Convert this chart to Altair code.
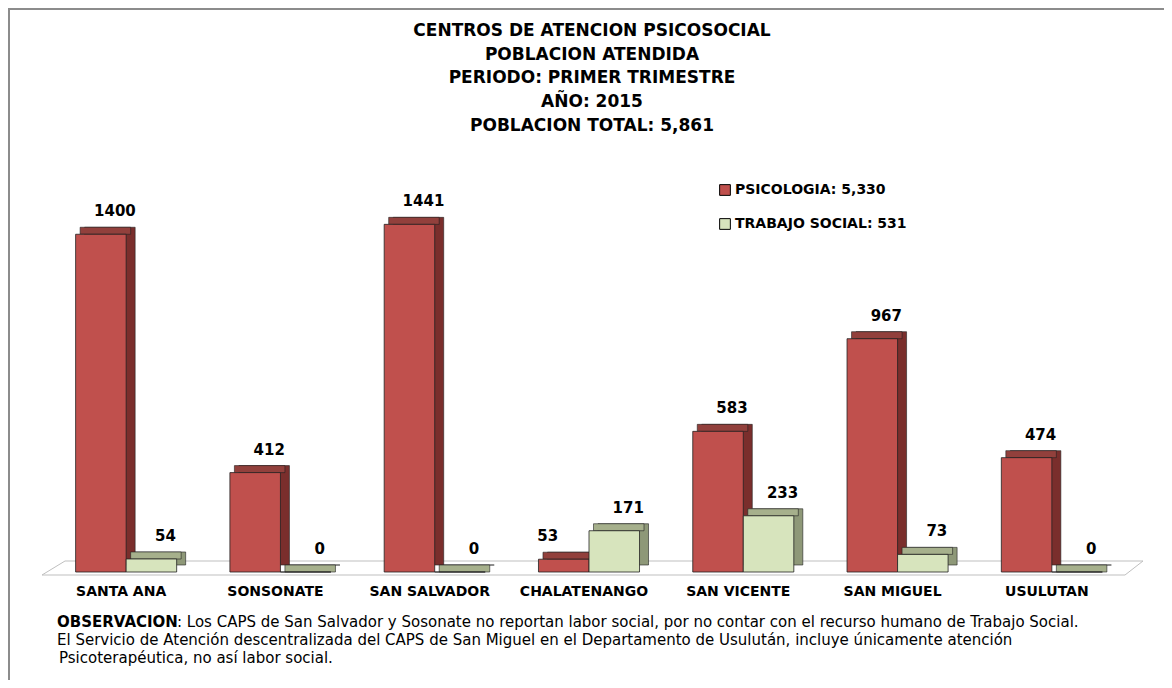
import altair as alt
import pandas as pd

# ---------------- data ----------------
categories = ["SANTA ANA", "SONSONATE", "SAN SALVADOR", "CHALATENANGO",
              "SAN VICENTE", "SAN MIGUEL", "USULUTAN"]
psicologia = [1400, 412, 1441, 53, 583, 967, 474]
trabajo_social = [54, 0, 0, 171, 233, 73, 0]
series_names = ["PSICOLOGIA: 5,330", "TRABAJO SOCIAL: 531"]

title_lines = ["CENTROS DE ATENCION PSICOSOCIAL", "POBLACION ATENDIDA",
               "PERIODO:  PRIMER  TRIMESTRE", "AÑO: 2015", "POBLACION TOTAL: 5,861"]
note_bold = "OBSERVACION"
note_lines = [
    ": Los CAPS de  San Salvador y Sosonate no reportan  labor social, por no contar con el recurso humano de Trabajo Social.",
    "El Servicio de Atención  descentralizada del CAPS de San Miguel en el Departamento de Usulután, incluye únicamente atención",
    "Psicoterapéutica, no así labor social.",
]

# ---------------- styles ----------------
front_colors = ["#C0504D", "#D7E4BD"]
side_colors = ["#7A2E2C", "#8E9878"]
top_colors = ["#92403C", "#A6B08C"]
FONT = "DejaVu Sans"
W, H = 1080, 386
DX, DY = 9, 7
P_IN, P_OUT = 0.345, 0.1725

rows = []
for c, p, t in zip(categories, psicologia, trabajo_social):
    rows.append({"cat": c, "serie": series_names[0], "valor": p})
    rows.append({"cat": c, "serie": series_names[1], "valor": t})
df = pd.DataFrame(rows)
cat_df = pd.DataFrame({"cat": categories})


def x_enc(shift=0):
    return alt.X("cat:N", sort=categories,
                 scale=alt.Scale(domain=categories, paddingInner=P_IN, paddingOuter=P_OUT,
                                 range=[shift, W + shift]),
                 axis=None)


def y_enc(shift=0):
    return alt.Y("valor:Q", scale=alt.Scale(domain=[0, 1600], range=[H - shift, -shift]),
                 axis=None)


xoff_enc = alt.XOffset("serie:N", sort=series_names,
                       scale=alt.Scale(domain=series_names, paddingInner=0, paddingOuter=0))


def colour(rng, legend=None):
    return alt.Color("serie:N", sort=series_names,
                     scale=alt.Scale(domain=series_names, range=rng), legend=legend)


base = alt.Chart(df)
one = alt.Chart(pd.DataFrame({"k": [0]}))

# border (top & left)
border_top = one.mark_rule(color="#8C8C8C", strokeWidth=2).encode(
    x=alt.value(-41), x2=alt.value(W + 35), y=alt.value(-177))
border_left = one.mark_rule(color="#8C8C8C", strokeWidth=2).encode(
    x=alt.value(-40), y=alt.value(-178), y2=alt.value(H + 108))

# floor
floor_col = "#BFBFBF"
floor_front = one.mark_rule(color=floor_col, strokeWidth=1).encode(
    x=alt.value(-7), x2=alt.value(1076), y=alt.value(389))
floor_back = one.mark_rule(color=floor_col, strokeWidth=1).encode(
    x=alt.value(16), x2=alt.value(1094), y=alt.value(375))
floor_left = one.mark_rule(color=floor_col, strokeWidth=1).encode(
    x=alt.value(-7), x2=alt.value(16), y=alt.value(389), y2=alt.value(375))
floor_right = one.mark_rule(color=floor_col, strokeWidth=1).encode(
    x=alt.value(1076), x2=alt.value(1094), y=alt.value(389), y2=alt.value(375))

# 3D pieces: back/side face, top face, front face
side = base.mark_bar(stroke="#222", strokeWidth=0.6).encode(
    x=x_enc(DX), xOffset=xoff_enc, y=y_enc(DY), color=colour(side_colors))
top = base.mark_bar(y2Offset=-DY, stroke="#222", strokeWidth=0.6).encode(
    x=x_enc(DX / 2), xOffset=xoff_enc, y=y_enc(), y2=alt.Y2("valor:Q"),
    color=colour(top_colors))
front = base.mark_bar(stroke="#222", strokeWidth=0.8).encode(
    x=x_enc(), xOffset=xoff_enc, y=y_enc(),
    color=colour(front_colors, alt.Legend(
        title=None, orient="none", legendX=669, legendY=-3, direction="vertical",
        symbolType="square", symbolSize=115, symbolStrokeColor="black",
        symbolStrokeWidth=1, symbolOpacity=1, labelFont=FONT, labelFontSize=14,
        labelFontWeight="bold", labelColor="black", rowPadding=18, labelOffset=3,
        labelLimit=400, padding=0)))

is_left = (alt.datum.cat == "CHALATENANGO") & (alt.datum.serie == series_names[0])
labels = base.transform_filter(~is_left).mark_text(
    dx=14, dy=-23, font=FONT, fontSize=15, fontWeight="bold", color="black",
    baseline="middle").encode(x=x_enc(), xOffset=xoff_enc, y=y_enc(),
                              text=alt.Text("valor:Q", format="d"))
labels_left = base.transform_filter(is_left).mark_text(
    dx=-16, dy=-23, font=FONT, fontSize=15, fontWeight="bold", color="black",
    baseline="middle").encode(x=x_enc(), xOffset=xoff_enc, y=y_enc(),
                              text=alt.Text("valor:Q", format="d"))

# category labels
cat_labels = alt.Chart(cat_df).mark_text(
    dx=-5, font=FONT, fontSize=14, fontWeight="bold", color="black",
    baseline="middle").encode(x=x_enc(), y=alt.value(H + 20), text="cat:N")

# titles
title_y = [-155, -131, -108, -84, -60]
titles = [one.mark_text(font=FONT, fontSize=17, fontWeight="bold", color="black",
                        align="center", baseline="middle").encode(
    x=alt.value(543), y=alt.value(ty), text=alt.value(t))
    for t, ty in zip(title_lines, title_y)]

# notes
note_b = one.mark_text(font=FONT, fontSize=15, fontWeight="bold", color="black",
                       align="left", baseline="middle").encode(
    x=alt.value(8), y=alt.value(436), text=alt.value(note_bold))
note_x = [128, 8, 10]
note_y = [436, 454, 472]
notes = [one.mark_text(font=FONT, fontSize=15, color="black", align="left",
                       baseline="middle").encode(
    x=alt.value(nx), y=alt.value(ny), text=alt.value(t))
    for t, nx, ny in zip(note_lines, note_x, note_y)]

chart = alt.layer(
    border_top, border_left, floor_back, floor_front, floor_left, floor_right,
    side, top, front, labels, labels_left, cat_labels, *titles, note_b, *notes
).resolve_scale(color="independent", x="independent", y="independent").properties(
    width=W, height=H, autosize="none",
    padding={"left": 41, "top": 178, "right": 35, "bottom": 108},
    background="white"
).configure_view(stroke=None)

chart.save("out.html", embed_options={"renderer": "svg", "actions": False})
